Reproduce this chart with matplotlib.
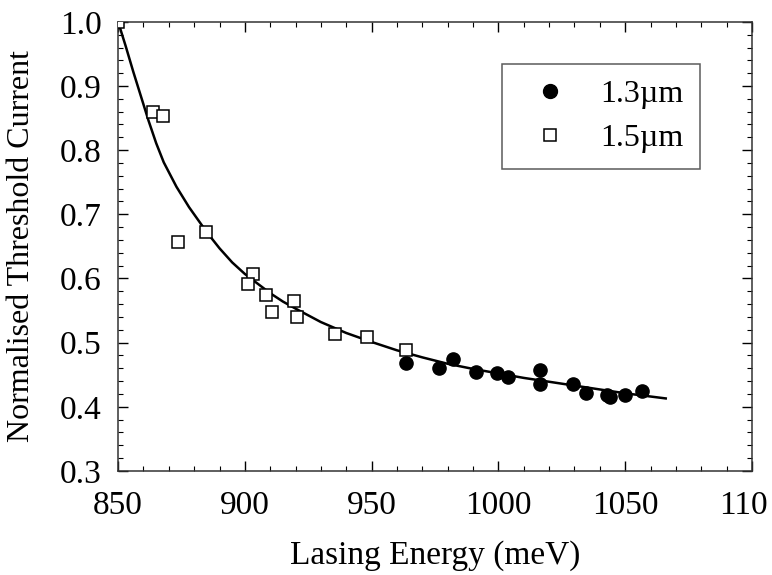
import matplotlib.pyplot as plt
from matplotlib.ticker import MultipleLocator
from matplotlib.transforms import ScaledTranslation

plt.rcParams['font.family'] = ['Liberation Serif', 'DejaVu Serif']

# 1.3 um devices (filled circles)
energy_13 = [963.6, 976.7, 982.2, 991.2, 999.3, 1003.6, 1016.4, 1016.4,
             1029.3, 1034.4, 1042.7, 1044.0, 1049.9, 1056.5]
current_13 = [0.468, 0.460, 0.475, 0.454, 0.453, 0.446, 0.458, 0.436,
              0.436, 0.422, 0.418, 0.415, 0.419, 0.425]

# 1.5 um devices (open squares)
energy_15 = [850.0, 863.9, 867.9, 873.5, 884.7, 903.4, 901.1, 908.2,
             910.6, 919.5, 920.7, 935.6, 948.1, 963.6]
current_15 = [1.0, 0.860, 0.853, 0.657, 0.673, 0.607, 0.591, 0.574,
              0.548, 0.565, 0.540, 0.514, 0.509, 0.488]

# fitted curve
fit_energy = [850, 853, 856, 859, 862, 865, 868, 873, 878, 885, 890, 895,
              900, 905, 910, 915, 920, 930, 940, 950, 960, 970, 980, 990,
              1000, 1010, 1020, 1030, 1040, 1050, 1060, 1066]
fit_current = [1.0, 0.962, 0.922, 0.884, 0.846, 0.811, 0.781, 0.743, 0.711,
               0.672, 0.647, 0.625, 0.607, 0.592, 0.577, 0.564, 0.553,
               0.532, 0.515, 0.501, 0.488, 0.477, 0.467, 0.459, 0.452,
               0.445, 0.439, 0.433, 0.427, 0.421, 0.416, 0.413]

fig = plt.figure(figsize=(7.72, 5.75), dpi=100)
ax = fig.add_axes([0.153, 0.181, 0.821, 0.781])

ax.plot(fit_energy, fit_current, color='black', lw=1.8, zorder=2)
ax.plot(energy_13, current_13, 'o', color='black', markersize=9.5,
        label='1.3\u00b5m', zorder=3)
ax.plot(energy_15, current_15, 's', markerfacecolor='white',
        markeredgecolor='black', markeredgewidth=1.1, markersize=9,
        label='1.5\u00b5m', zorder=3)

ax.set_xlim(850, 1100)
ax.set_ylim(0.3, 1.0)
ax.set_xticks([850, 900, 950, 1000, 1050, 1100])
ax.set_xticklabels(['850', '900', '950', '1000', '1050', '110'])
ax.xaxis.set_minor_locator(MultipleLocator(10))
ax.yaxis.set_major_locator(MultipleLocator(0.1))
ax.yaxis.set_minor_locator(MultipleLocator(0.02))
ax.tick_params(which='both', direction='in', top=True, right=True,
               labelsize=24)
ax.tick_params(axis='x', pad=14)
ax.tick_params(axis='y', pad=12)
ax.tick_params(which='major', length=7, width=1)
ax.tick_params(which='minor', length=3.5, width=0.8)
# last label sits a little left of its tick, as in the original
last = ax.get_xticklabels()[-1]
last.set_transform(last.get_transform() +
                   ScaledTranslation(-8 / 100, 0, fig.dpi_scale_trans))
for s in ax.spines.values():
    s.set_linewidth(1.1)
    s.set_color('#333333')

ax.set_xlabel('Lasing Energy (meV)', fontsize=24, labelpad=14)
ax.set_ylabel('Normalised Threshold Current', fontsize=23, labelpad=17)

leg = ax.legend(loc='upper right', bbox_to_anchor=(0.918, 0.906),
                borderaxespad=0, fancybox=False, fontsize=23,
                handletextpad=0.6, borderpad=0.5, labelspacing=0.45,
                handlelength=2.0)
leg.get_frame().set_edgecolor('#333333')
leg.get_frame().set_linewidth(1.1)
leg.legend_handles[0].set_markersize(10)
leg.legend_handles[1].set_markersize(9)

fig.savefig('out.png', dpi=100)
